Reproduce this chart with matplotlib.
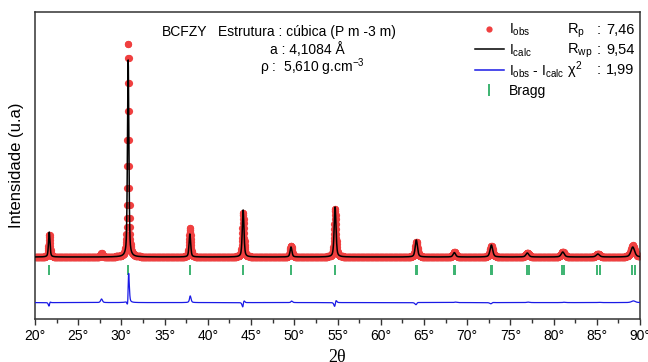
import numpy as np
import matplotlib.pyplot as plt
from matplotlib.lines import Line2D

plt.rcParams['font.family'] = ['Liberation Sans', 'DejaVu Sans']
plt.rcParams['mathtext.fontset'] = 'custom'
plt.rcParams['mathtext.rm'] = 'Liberation Sans'
plt.rcParams['mathtext.it'] = 'Liberation Sans'

# Reflections (2theta, degrees)
peak_pos = [21.65, 30.78, 37.92, 44.08, 49.62, 54.72, 64.12, 68.52, 72.80,
            76.96, 81.06, 85.12, 89.16]
calc_height = [125, 985, 115, 235, 50, 250, 85, 22, 60, 20, 25, 15, 50]
obs_height = [112, 1075, 145, 222, 56, 240, 76, 24, 55, 22, 26, 16, 58]
peak_fwhm = [0.20, 0.19, 0.22, 0.23, 0.25, 0.25, 0.31, 0.34, 0.36, 0.39,
             0.42, 0.45, 0.50]
# small impurity reflection only present in the observed pattern
extra_pos = [27.70]
extra_height = [18]

# Bragg positions (K-alpha1 and K-alpha2)
bragg_k1 = [21.62, 30.76, 37.90, 44.06, 49.58, 54.68, 64.05, 68.45, 72.72,
            76.91, 81.01, 85.06, 89.11]
bragg_k2 = [64.23, 68.64, 72.93, 77.14, 81.25, 85.33, 89.39]

x_ticks = [20, 25, 30, 35, 40, 45, 50, 55, 60, 65, 70, 75, 80, 85, 90]


def pvoigt(x, pos, fwhm, eta=0.5):
    g = np.exp(-4 * np.log(2) * ((x - pos) / fwhm) ** 2)
    lor = 1 / (1 + 4 * ((x - pos) / fwhm) ** 2)
    return eta * lor + (1 - eta) * g


tth = np.arange(20, 90.001, 0.02)
calc = np.zeros_like(tth)
obs = np.zeros_like(tth)
for p, hc, ho, w in zip(peak_pos, calc_height, obs_height, peak_fwhm):
    calc += hc * pvoigt(tth, p, w)
    obs += ho * pvoigt(tth, p + 0.01, w * 1.02)
for p, h in zip(extra_pos, extra_height):
    obs += h * pvoigt(tth, p, 0.25)

diff_offset = -228
bragg_lo, bragg_hi = -92, -40

fig = plt.figure(figsize=(6.48, 3.62), dpi=100)
ax = fig.add_axes([0.054, 0.1188, 0.9337, 0.8481])

ax.plot(tth, obs, 'o', color='#f04040', ms=5.2, mew=0, zorder=2)
ax.plot(tth, calc, color='black', lw=1.1, zorder=3)
ax.plot(tth, obs - calc + diff_offset, color='#1a1ae6', lw=0.9, zorder=3)
ax.vlines(bragg_k1, bragg_lo, bragg_hi, color='#3cb371', lw=1.4)
ax.vlines(bragg_k2, bragg_lo, bragg_hi, color='#3cb371', lw=1.4)

ax.set_xlim(20, 90)
ax.set_ylim(-310, 1225)
ax.set_yticks([])
ax.set_xticks(x_ticks)
ax.set_xticklabels([f'{t}°' for t in x_ticks], fontsize=10)
ax.set_xticks(np.arange(22.5, 90, 5), minor=True)
ax.tick_params(axis='x', which='major', direction='out', length=4, width=1,
               color='#333333')
ax.tick_params(axis='x', which='minor', direction='out', length=3, width=1,
               color='#333333')
for s in ax.spines.values():
    s.set_linewidth(1.1)
    s.set_color('#333333')

ax.set_ylabel('Intensidade (u.a)', fontsize=12, labelpad=8)
ax.set_xlabel('2θ', fontsize=13, family='Liberation Serif', labelpad=4)

ax.text(0.21, 0.935, 'BCFZY', transform=ax.transAxes, fontsize=10,
        va='center', ha='left')
ax.text(0.3025, 0.935, 'Estrutura : cúbica (P m -3 m)', transform=ax.transAxes,
        fontsize=10, va='center', ha='left')
ax.text(0.388, 0.879, 'a : 4,1084 Å', transform=ax.transAxes, fontsize=10,
        va='center', ha='left')
ax.text(0.372, 0.821, r'ρ :  5,610 g.cm$^{-3}$', transform=ax.transAxes,
        fontsize=10, va='center', ha='left')

handles = [
    Line2D([], [], ls='none', marker='o', color='#f04040', ms=4.5, mew=0),
    Line2D([], [], color='black', lw=1.1),
    Line2D([], [], color='#1a1ae6', lw=1.1),
    Line2D([], [], ls='none', marker='|', color='#3cb371', ms=9, mew=1.4),
]
labels = [r'$\mathregular{I_{obs}}$', r'$\mathregular{I_{calc}}$',
          r'$\mathregular{I_{obs}}$ - $\mathregular{I_{calc}}$', 'Bragg']
ax.legend(handles, labels, loc='upper left', bbox_to_anchor=(0.722, 0.978),
          frameon=False, fontsize=10, handlelength=2.1, handletextpad=0.4,
          labelspacing=0.32, borderpad=0.2, borderaxespad=0)

r_names = [r'$\mathregular{R_p}$', r'$\mathregular{R_{wp}}$', r'$\chi^2$']
r_vals = ['7,46', '9,54', '1,99']
r_y = [0.940, 0.875, 0.810]
for name, val, y in zip(r_names, r_vals, r_y):
    ax.text(0.879, y, name, transform=ax.transAxes, fontsize=10.5,
            va='center', ha='left')
    ax.text(0.929, y, ':', transform=ax.transAxes, fontsize=10.5,
            va='center', ha='left')
    ax.text(0.944, y, val, transform=ax.transAxes, fontsize=10.5,
            va='center', ha='left')

fig.savefig('out.png', dpi=100)
